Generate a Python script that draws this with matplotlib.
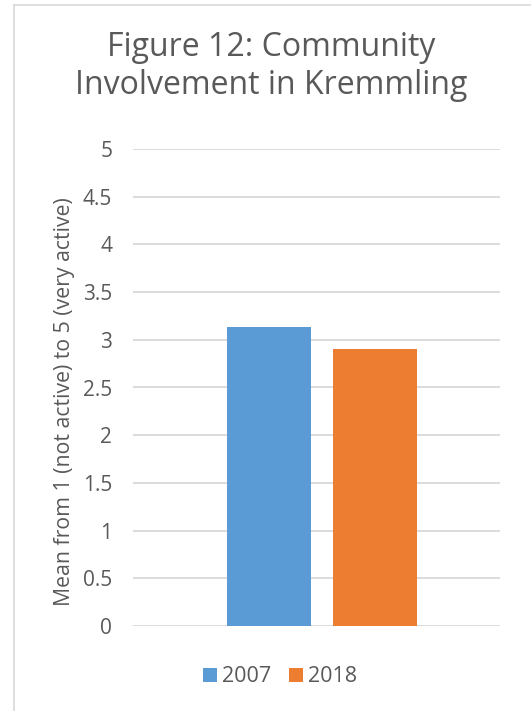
import matplotlib
matplotlib.use("Agg")
import matplotlib.pyplot as plt
from matplotlib.lines import Line2D
from matplotlib.patches import Patch

plt.rcParams['font.family'] = ['Open Sans', 'DejaVu Sans']

years = ["2007", "2018"]
means = [3.13, 2.90]
colors = ["#5B9BD5", "#ED7D31"]
yticks = [0, 0.5, 1, 1.5, 2, 2.5, 3, 3.5, 4, 4.5, 5]
ytick_labels = ["0", "0.5", "1", "1.5", "2", "2.5", "3", "3.5", "4", "4.5", "5"]
title = "Figure 12: Community\nInvolvement in Kremmling"
ylabel = "Mean from 1 (not active) to 5 (very active)"

W, H = 531, 711
fig = plt.figure(figsize=(W / 100, H / 100), dpi=100)

# chart frame (left and top edges)
fig.add_artist(Line2D([14 / W, 14 / W], [0, 1 - 5 / H], color="#d9d9d9", lw=1.2,
                      transform=fig.transFigure))
fig.add_artist(Line2D([14 / W, 1], [1 - 5 / H, 1 - 5 / H], color="#d9d9d9", lw=1.2,
                      transform=fig.transFigure))

left, right = 133 / W, 500 / W
bottom, top = 1 - 626 / H, 1 - 149 / H
ax = fig.add_axes([left, bottom, right - left, top - bottom])

offsets = [-0.1445, 0.1445]
width = 0.229
for off, v, c, lab in zip(offsets, means, colors, years):
    ax.bar(off, v, width=width, color=c, label=lab, zorder=3)

ax.set_xlim(-0.514, 0.486)
ax.set_ylim(0, 5)
ax.set_yticks(yticks)
ax.set_yticklabels(ytick_labels)
ax.set_xticks([])
ax.grid(axis="y", color="#d9d9d9", lw=1.3, zorder=0)
for s in ax.spines.values():
    s.set_visible(False)
ax.tick_params(axis="y", length=0, pad=15, labelsize=15, labelcolor="#595959")

fig.text(65 / W, 1 - 402 / H, ylabel, rotation=90, ha="center", va="center",
         fontsize=15.3, color="#595959")

fig.text(0.5 + 6 / W, 1 - 67 / H, title, ha="center", va="center", fontsize=23,
         color="#595959", linespacing=1.2)

handles = [Patch(facecolor=c, label=y) for c, y in zip(colors, years)]
fig.legend(handles=handles, loc="center", bbox_to_anchor=(280 / W, 1 - 677 / H),
           ncol=2, frameon=False, fontsize=15.5, labelcolor="#595959",
           handlelength=0.65, handleheight=0.65, handletextpad=0.23,
           columnspacing=0.79, borderpad=0, borderaxespad=0)

fig.savefig("out.png", dpi=100)
